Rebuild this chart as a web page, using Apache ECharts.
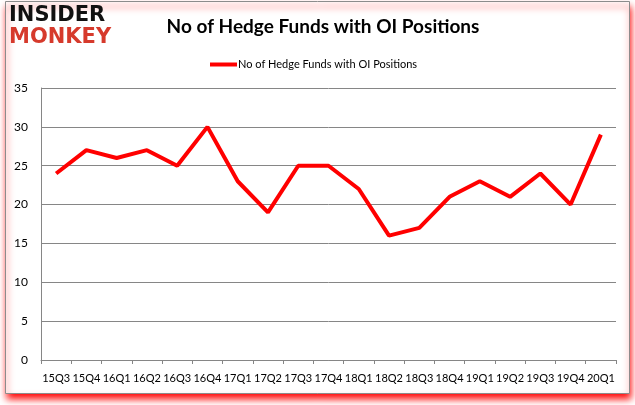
<!DOCTYPE html>
<html><head><meta charset="utf-8">
<script src="https://cdn.jsdelivr.net/npm/echarts@6/dist/echarts.min.js"></script>
<style>html,body{margin:0;padding:0;background:#fff}#c{width:635px;height:405px}</style>
</head><body><div id="c"></div>
<script>
const categories = ['15Q3','15Q4','16Q1','16Q2','16Q3','16Q4','17Q1','17Q2','17Q3','17Q4','18Q1','18Q2','18Q3','18Q4','19Q1','19Q2','19Q3','19Q4','20Q1'];
const hedgeFunds = [24,27,26,27,25,30,23,19,25,25,22,16,17,21,23,21,24,20,29];
const seriesName = 'No of Hedge Funds with OI Positions';
const titleText = 'No of Hedge Funds with OI Positions';
const yTicks = {min:0, max:35, interval:5};

const chart = echarts.init(document.getElementById('c'), null, {renderer:'canvas'});
const font = 'Lato, "Open Sans", sans-serif';
chart.setOption({
  animation:false,
  backgroundColor:'#fff',
  graphic:[
    {type:'rect', z:-10, shape:{x:5.5,y:1.5,width:624,height:392},
     style:{fill:'#fff', stroke:'#8c8c8c', lineWidth:1, shadowColor:'rgba(255,0,0,1)', shadowBlur:7, shadowOffsetY:5, shadowOffsetX:1}},
    {type:'text', left:9, top:5, z:10, style:{text:'INSIDER', font:'bold 21px "DejaVu Sans"', fill:'#111'}},
    {type:'text', left:9, top:27, z:10, style:{text:'MONKEY', font:'bold 21px "DejaVu Sans"', fill:'#d63a2c'}}
  ],
  title:{text:titleText, left:318, textAlign:'center', top:12,
    textStyle:{fontFamily:font, fontSize:19, fontWeight:'bold', color:'#000'}},
  legend:{top:54, left:205, itemWidth:27, itemHeight:4, itemGap:0,
    icon:'rect',
    textStyle:{fontFamily:font, fontSize:11, color:'#000', padding:[0,0,0,-4]},
    data:[seriesName]},
  grid:{left:41, right:19, top:88, bottom:45},
  xAxis:{type:'category', data:categories, boundaryGap:true,
    axisLine:{lineStyle:{color:'#868686'}},
    axisTick:{show:true, length:4, alignWithLabel:false, lineStyle:{color:'#868686'}},
    axisLabel:{fontFamily:font, fontSize:11, color:'#000', margin:13, interval:0}},
  yAxis:{type:'value', min:yTicks.min, max:yTicks.max, interval:yTicks.interval,
    axisLine:{show:true, lineStyle:{color:'#868686'}},
    axisTick:{show:false},
    splitLine:{lineStyle:{color:'#868686'}},
    axisLabel:{fontFamily:font, fontSize:12, color:'#000', margin:13}},
  series:[{name:seriesName, type:'line', data:hedgeFunds, symbol:'none',
    lineStyle:{color:'#ff0000', width:4}, itemStyle:{color:'#ff0000'}}]
});
</script></body></html>
